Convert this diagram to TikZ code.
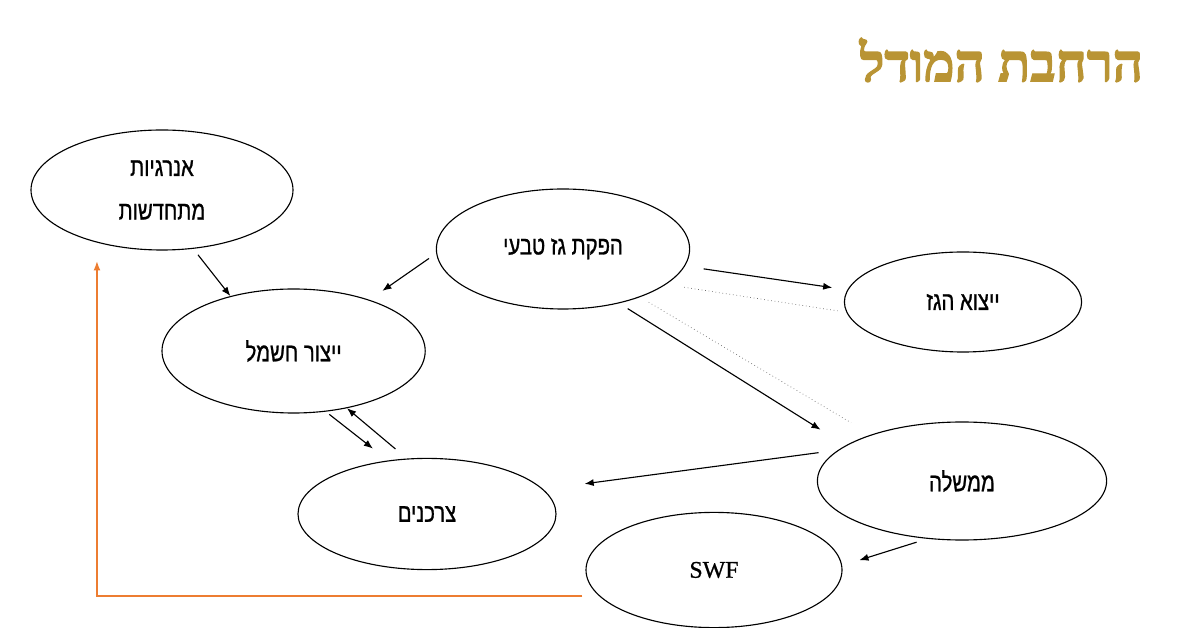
\documentclass[tikz,border=0pt]{standalone}
\usepackage{fontspec}
\setmainfont{Liberation Serif}
\newfontfamily\hebfont[Script=Hebrew, FakeStretch=0.78, FakeBold=1]{Liberation Sans}
\newfontfamily\titlefont[Script=Hebrew, FakeBold=2.5]{Liberation Serif}
\newfontfamily\swffont[FakeBold=0.8]{Liberation Serif}
\TeXXeTstate=1
\usepackage{xcolor}
\definecolor{Gold}{RGB}{185,148,52}
\definecolor{Orange}{RGB}{237,125,49}
\definecolor{Gray}{RGB}{110,110,110}
\definecolor{Black}{RGB}{0,0,0}
\newcommand{\hebr}[1]{\beginR #1\endR}
\usetikzlibrary{shapes.geometric, arrows.meta}

\begin{document}
\begin{tikzpicture}[
		bubble/.style={ellipse, draw=Black, line width=0.8pt, inner sep=0pt, align=center, font=\hebfont\fontsize{18.5}{21}\selectfont},
		link/.style={-{Latex[length=6.5pt,width=5pt]}, draw=Black, line width=0.8pt},
		dots/.style={draw=Gray, line width=0.5pt, dotted},
		back/.style={-{Latex[length=7pt,width=5pt]}, draw=Orange, line width=1.4pt}]
		
		\useasboundingbox (0,0) rectangle (29.425,15.675);
		
		% Title
		\node[anchor=east, text=Gold, font=\titlefont\bfseries\fontsize{37.5}{42}\selectfont] (title) at (28.7,14.175) {\hebr{הרחבת המודל}};
		
		% Ellipses
		\node[bubble, minimum width=6.55cm, minimum height=3cm] (ren) at (4.05,10.925) {\hebr{אנרגיות}\\[10pt]\hebr{מתחדשות}};
		\node[bubble, minimum width=6.58cm, minimum height=3.1cm] (elec) at (7.34,6.9) {\hebr{ייצור חשמל}};
		\node[bubble, minimum width=6.33cm, minimum height=3cm] (gas) at (14.075,9.45) {\hebr{הפקת גז טבעי}};
		\node[bubble, minimum width=5.93cm, minimum height=2.5cm] (exp) at (24.075,8.125) {\hebr{ייצוא הגז}};
		\node[bubble, minimum width=7.23cm, minimum height=2.95cm] (gov) at (24.05,3.65) {\hebr{ממשלה}};
		\node[bubble, minimum width=6.45cm, minimum height=2.78cm] (cons) at (10.675,2.825) {\hebr{צרכנים}};
		\node[bubble, minimum width=6.4cm, minimum height=2.88cm, font=\swffont\fontsize{17}{20}\selectfont] (swf) at (17.85,1.425) {SWF};
		
		% Arrows
		\draw[link, shorten <=0.19cm] (ren.-62) -- (elec.139);
		\draw[link, shorten <=0.22cm, shorten >=0.39cm] (gas.182) -- (elec.34);
		\draw[link, shorten <=0.47cm, shorten >=0.38cm] (gas.-8) -- (exp.174);
		\draw[link, shorten <=0.25cm, shorten >=0.74cm] (gas.-44) -- (gov.163);
		\draw[link, shorten <=0.49cm, shorten >=1.04cm] (gov.166) -- (cons.12);
		\draw[link, shorten <=0.28cm, shorten >=0.45cm] (gov.239) -- (swf.2);
		\draw[link, shorten <=0.11cm, shorten >=0.48cm] (elec.-62) -- (cons.126);
		\draw[link, shorten <=0.37cm] (cons.110) -- (elec.-47);
		
		% Dotted links
		\draw[dots, shorten <=0.46cm, shorten >=0.22cm] (gas.-19) -- (exp.185);
		\draw[dots, shorten <=0.25cm, shorten >=0.58cm] (gas.-32) -- (gov.153);
		
		% Fund back to renewables
		\draw[back] ([xshift=-0.43cm]swf.193) -| ([yshift=-0.45cm]ren.219);
		
	\end{tikzpicture}
\end{document}
